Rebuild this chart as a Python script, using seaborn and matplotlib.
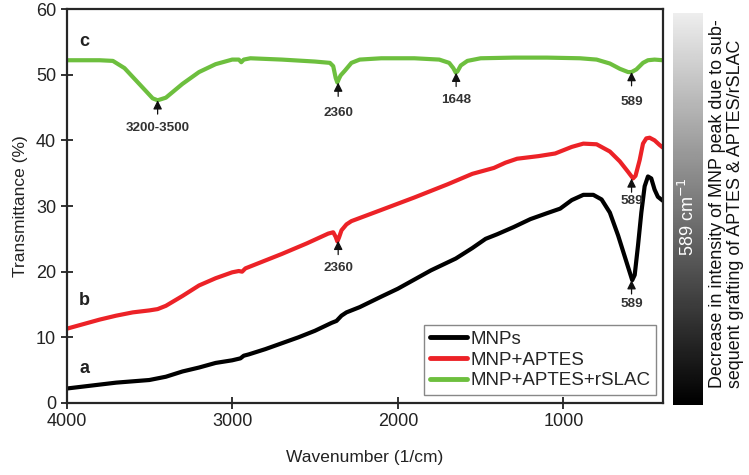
import numpy as np
import pandas as pd
import seaborn as sns
import matplotlib.pyplot as plt

# FTIR spectra: wavenumber (1/cm) and transmittance (%)
wn_c = [4000, 3800, 3720, 3650, 3550, 3480, 3450, 3400, 3300, 3200, 3100, 3000, 2960, 2945, 2930,
        2890, 2700, 2500, 2410, 2390, 2375, 2365, 2355, 2345, 2320, 2280, 2230, 2100, 1900, 1750,
        1690, 1665, 1650, 1640, 1620, 1580, 1500, 1300, 1100, 900, 800, 720, 660, 610, 589, 560,
        520, 490, 450, 400]
t_c = [52.2, 52.2, 52.1, 51.0, 48.3, 46.4, 46.1, 46.5, 48.6, 50.4, 51.6, 52.3, 52.3, 51.9, 52.3,
       52.5, 52.3, 52.0, 51.8, 51.3, 49.5, 48.8, 49.4, 49.9, 50.6, 51.8, 52.3, 52.5, 52.5, 52.3,
       51.8, 51.0, 50.3, 50.5, 51.4, 52.1, 52.5, 52.6, 52.6, 52.5, 52.3, 51.7, 50.9, 50.4, 50.4, 50.8,
       51.8, 52.2, 52.3, 52.2]

wn_b = [4000, 3900, 3800, 3700, 3600, 3500, 3450, 3400, 3300, 3200, 3100, 3000, 2960, 2940, 2920,
        2850, 2700, 2550, 2420, 2390, 2375, 2365, 2355, 2340, 2310, 2280, 2100, 1900, 1700, 1550,
        1420, 1350, 1280, 1150, 1050, 950, 880, 800, 720, 660, 610, 580, 565, 540, 520, 500, 480,
        450, 420, 400]
t_b = [11.3, 12.0, 12.7, 13.3, 13.8, 14.1, 14.3, 14.8, 16.3, 17.9, 19.0, 19.9, 20.1, 20.0, 20.5,
       21.2, 22.7, 24.3, 25.8, 26.0, 25.3, 24.6, 25.2, 26.3, 27.2, 27.7, 29.4, 31.3, 33.3, 34.9,
       35.8, 36.6, 37.2, 37.6, 38.0, 39.0, 39.5, 39.4, 38.3, 36.8, 35.2, 34.2, 34.6, 37.0, 39.5, 40.3, 40.4,
       40.0, 39.3, 38.9]

wn_a = [4000, 3900, 3800, 3700, 3600, 3500, 3400, 3300, 3200, 3100, 3000, 2950, 2930, 2900, 2800,
        2700, 2600, 2500, 2400, 2370, 2340, 2310, 2230, 2100, 2000, 1900, 1800, 1700, 1650, 1550,
        1470, 1400, 1300, 1200, 1100, 1020, 950, 880, 820, 770, 720, 670, 620, 585, 570, 550, 530,
        510, 490, 470, 450, 430, 400]
t_a = [2.2, 2.5, 2.8, 3.1, 3.3, 3.5, 4.0, 4.8, 5.4, 6.1, 6.5, 6.8, 7.2, 7.4, 8.2,
       9.1, 10.0, 11.0, 12.2, 12.5, 13.3, 13.8, 14.6, 16.2, 17.4, 18.8, 20.2, 21.4, 22.0, 23.6,
       25.0, 25.7, 26.8, 28.0, 28.9, 29.6, 30.9, 31.7, 31.7, 31.0, 29.0, 25.5, 21.5, 18.7, 19.5, 24.0, 29.0,
       33.0, 34.5, 34.2, 32.5, 31.4, 30.8]

names = ['MNPs', 'MNP+APTES', 'MNP+APTES+rSLAC']
colors = ['#000000', '#ec2227', '#6dbf3e']

# peak marks: (x, arrow tip y, label, label y)
peaks = [(3450, 46.1, '3200-3500', 41.9),
         (2360, 48.8, '2360', 44.2),
         (1648, 50.3, '1648', 46.1),
         (589, 50.4, '589', 45.9),
         (2360, 24.7, '2360', 20.5),
         (589, 34.2, '589', 30.7),
         (589, 18.7, '589', 15.0)]

df = pd.concat([
    pd.DataFrame({'wn': wn_a, 't': t_a, 'sample': names[0]}),
    pd.DataFrame({'wn': wn_b, 't': t_b, 'sample': names[1]}),
    pd.DataFrame({'wn': wn_c, 't': t_c, 'sample': names[2]}),
])

sns.set_style('ticks')
plt.rcParams['font.family'] = ['Liberation Sans', 'DejaVu Sans']

fig = plt.figure(figsize=(7.49, 4.75), dpi=100)
ax = fig.add_axes([0.0888, 0.1516, 0.7962, 0.8294])

sns.lineplot(data=df, x='wn', y='t', hue='sample', palette=colors, hue_order=names,
             linewidth=3, ax=ax, legend=True)

ax.set_xlim(4000, 400)
ax.set_ylim(0, 60)
ax.set_xticks([4000, 3000, 2000, 1000])
ax.set_yticks(range(0, 61, 10))
ax.tick_params(direction='inout', length=9, width=1.3, labelsize=13, colors='#222222', pad=3)
for s in ax.spines.values():
    s.set_linewidth(1.6)
ax.set_xlabel('Wavenumber (1/cm)', fontsize=12.5, color='#222222', labelpad=14)
ax.set_ylabel('Transmittance (%)', fontsize=12.5, color='#222222', labelpad=6)

for x, tip, lab, ly in peaks:
    ax.annotate('', xy=(x, tip), xytext=(x, tip - 2.1),
                arrowprops=dict(arrowstyle='-|>', color='#111111', lw=0.9,
                                mutation_scale=13, shrinkA=0, shrinkB=0))
    ax.text(x, ly, lab, ha='center', va='center', fontsize=9.7, fontweight='bold', color='#333333')

for lab, ly in [('c', 55.0), ('b', 15.6), ('a', 5.3)]:
    ax.text(3890, ly, lab, ha='center', va='center', fontsize=13, fontweight='bold', color='#222222')

leg = ax.legend(loc='lower right', bbox_to_anchor=(0.988, 0.02), borderaxespad=0, fontsize=13.5,
                handlelength=2.0, handletextpad=0.15, labelspacing=0.2, fancybox=False,
                edgecolor='#888888', framealpha=1, borderpad=0.3)
leg.get_frame().set_linewidth(1.0)
for h in leg.get_lines():
    h.set_linewidth(3.5)

# grey scale bar on the right
cax = fig.add_axes([0.898, 0.147, 0.040, 0.826])
grad = np.linspace(0, 1, 256).reshape(-1, 1)
cax.imshow(grad, aspect='auto', cmap='gray', origin='lower', vmin=0, vmax=1.07, extent=[0, 1, 0, 1])
cax.set_xticks([])
cax.set_yticks([])
for s in cax.spines.values():
    s.set_visible(False)
cax.text(0.5, 0.48, '589 cm$^{-1}$', rotation=90, ha='center', va='center', color='white', fontsize=13,
         transform=cax.transAxes)

fig.text(0.97, 0.183, 'Decrease in intensity of MNP peak due to sub-\nsequent grafting of APTES & APTES/rSLAC',
         rotation=90, ha='center', va='bottom', ma='left', fontsize=12.9, color='#111111', linespacing=1.1)

fig.savefig('out.png', dpi=100)
